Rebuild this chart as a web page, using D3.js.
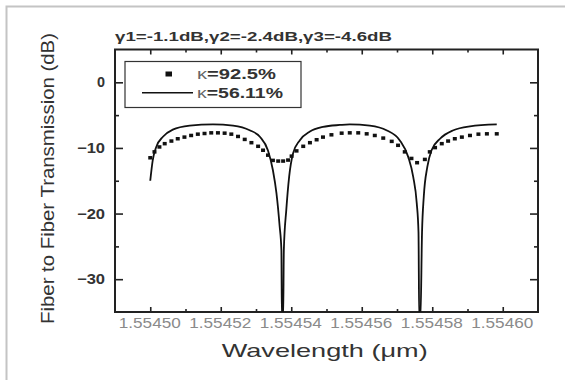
<!DOCTYPE html>
<html>
<head>
<meta charset="utf-8">
<script src="https://cdn.jsdelivr.net/npm/d3@7"></script>
<style>
  body { margin: 0; background: #fff; }
  svg { font-family: "Liberation Sans", Arial, sans-serif; }
</style>
</head>
<body>
<div id="chart"></div>
<script>
// data (wavelength in um, transmission in dB)
const squareWl = [1.5545000, 1.5545012, 1.5545026, 1.5545041, 1.5545060, 1.5545078, 1.5545097,
  1.5545116, 1.5545135, 1.5545154, 1.5545173, 1.5545192, 1.5545211, 1.5545230, 1.5545249,
  1.5545268, 1.5545287, 1.5545306, 1.5545320, 1.5545334, 1.5545348, 1.5545363, 1.5545377,
  1.5545391, 1.5545401, 1.5545415, 1.5545434, 1.5545453, 1.5545472, 1.5545490, 1.5545514,
  1.5545543, 1.5545566, 1.5545590, 1.5545614, 1.5545637, 1.5545661, 1.5545685, 1.5545703,
  1.5545722, 1.5545741, 1.5545757, 1.5545779, 1.5545793, 1.5545808, 1.5545827, 1.5545845,
  1.5545864, 1.5545884, 1.5545907, 1.5545931, 1.5545955, 1.5545983];
const squareDb = [-11.5, -10.6, -9.85, -9.35, -8.95, -8.6, -8.35,
  -8.1, -7.9, -7.8, -7.7, -7.7, -7.75, -7.9, -8.25,
  -8.7, -9.2, -9.75, -10.35, -11.1, -11.9, -12.0, -12.0,
  -11.85, -11.25, -10.45, -9.75, -9.2, -8.75, -8.35, -8.0,
  -7.75, -7.7, -7.7, -7.85, -8.1, -8.5, -9.0, -9.6,
  -10.6, -11.6, -12.25, -11.75, -10.6, -9.95, -9.35, -8.95,
  -8.6, -8.35, -8.1, -7.9, -7.85, -7.85];

const lineWl = [1.5545000, 1.5545007, 1.5545017, 1.5545036, 1.5545064, 1.5545112, 1.5545178,
  1.5545235, 1.5545282, 1.5545311, 1.5545334, 1.5545348, 1.5545358, 1.5545367, 1.5545372,
  1.55453735, 1.55453770, 1.5545379, 1.5545386, 1.5545394, 1.5545405, 1.5545424, 1.5545453,
  1.5545490, 1.5545538, 1.5545566, 1.5545623, 1.5545670, 1.5545708, 1.5545732, 1.5545746,
  1.5545756, 1.5545761, 1.55457630, 1.55457665, 1.5545771, 1.5545776, 1.5545786, 1.5545798,
  1.5545822, 1.5545860, 1.5545907, 1.5545983];
const lineDb = [-15.0, -11.9, -9.85, -8.3, -7.2, -6.6, -6.4,
  -6.6, -7.3, -8.3, -10.4, -13.4, -16.9, -21.9, -25.5,
  -36, -36, -25.5, -19.4, -14.4, -10.85, -8.85, -7.5,
  -6.8, -6.5, -6.4, -6.6, -7.3, -8.85, -11.4, -14.4,
  -18.4, -22.9, -36, -36, -22.9, -17.4, -12.9, -10.35,
  -8.6, -7.3, -6.7, -6.4];

const xMajor = [1.55450, 1.55452, 1.55454, 1.55456, 1.55458, 1.55460];
const xMinor = [1.55451, 1.55453, 1.55455, 1.55457, 1.55459];
const yMajor = [0, -10, -20, -30];
const yMinor = [-5, -15, -25];
const legendLabels = ["=92.5%", "=56.11%"];

const width = 565, height = 380;
const margin = {top: 49.5, right: 27, bottom: 68, left: 115};

const svg = d3.select("#chart").append("svg")
  .attr("width", width)
  .attr("height", height);

// light grey picture frame
svg.append("rect")
  .attr("x", 6.5).attr("y", 6.5)
  .attr("width", 620).attr("height", 420)
  .attr("fill", "none")
  .attr("stroke", "#c4c4c4")
  .attr("stroke-width", 2);

const x = d3.scaleLinear()
  .domain([1.55449, 1.55461])
  .range([margin.left, width - margin.right]);
const y = d3.scaleLinear()
  .domain([-35, 5])
  .range([height - margin.bottom, margin.top]);

const x0 = margin.left, x1 = width - margin.right;
const y0 = height - margin.bottom, y1 = margin.top;

// ticks on all four sides, pointing in
function tickAxis(axis, transform) {
  const g = svg.append("g").attr("transform", transform).call(axis);
  g.select(".domain").remove();
  g.selectAll(".tick line").attr("stroke", "#222").attr("stroke-width", 1.6);
  return g;
}

const gx = tickAxis(d3.axisBottom(x).tickValues(xMajor).tickSize(-5).tickPadding(6)
  .tickFormat(d3.format(".5f")), `translate(0,${y0})`);
gx.selectAll("text")
  .attr("fill", "#8a8a8a")
  .attr("font-size", "14px")
  .attr("dx", "-1px")
  .attr("textLength", 62)
  .attr("lengthAdjust", "spacingAndGlyphs");
tickAxis(d3.axisBottom(x).tickValues(xMinor).tickSize(-3).tickFormat(""), `translate(0,${y0})`);
tickAxis(d3.axisTop(x).tickValues(xMajor).tickSize(-5).tickFormat(""), `translate(0,${y1})`);
tickAxis(d3.axisTop(x).tickValues(xMinor).tickSize(-3).tickFormat(""), `translate(0,${y1})`);

const gy = tickAxis(d3.axisLeft(y).tickValues(yMajor).tickSize(-8).tickPadding(10)
  .tickFormat(d3.format("d")), `translate(${x0},0)`);
gy.selectAll("text")
  .attr("fill", "#333")
  .attr("font-size", "14px")
  .attr("font-weight", "bold")
  .attr("textLength", d => d === 0 ? 8 : 28)
  .attr("lengthAdjust", "spacingAndGlyphs");
tickAxis(d3.axisLeft(y).tickValues(yMinor).tickSize(-4).tickFormat(""), `translate(${x0},0)`);
tickAxis(d3.axisRight(y).tickValues(yMajor).tickSize(-8).tickFormat(""), `translate(${x1},0)`);
tickAxis(d3.axisRight(y).tickValues(yMinor).tickSize(-4).tickFormat(""), `translate(${x1},0)`);

// plot frame
svg.append("rect")
  .attr("x", x0).attr("y", y1)
  .attr("width", x1 - x0).attr("height", y0 - y1)
  .attr("fill", "none")
  .attr("stroke", "#222")
  .attr("stroke-width", 2);

svg.append("clipPath").attr("id", "clip")
  .append("rect")
  .attr("x", x0).attr("y", y1)
  .attr("width", x1 - x0).attr("height", y0 - y1);

const lineData = lineWl.map((w, i) => ({w: w, v: lineDb[i]}));
const squareData = squareWl.map((w, i) => ({w: w, v: squareDb[i]}));

const line = d3.line()
  .x(d => x(d.w))
  .y(d => y(d.v))
  .curve(d3.curveMonotoneX);

svg.append("path")
  .datum(lineData)
  .attr("clip-path", "url(#clip)")
  .attr("d", line)
  .attr("fill", "none")
  .attr("stroke", "#111")
  .attr("stroke-width", 1.8);

svg.append("g")
  .selectAll("rect")
  .data(squareData)
  .enter()
  .append("rect")
    .attr("x", d => x(d.w) - 2)
    .attr("y", d => y(d.v) - 1.75)
    .attr("width", 4)
    .attr("height", 3.5)
    .attr("fill", "#111");

// legend
svg.append("rect")
  .attr("x", 125).attr("y", 61.5)
  .attr("width", 176).attr("height", 46)
  .attr("fill", "#fff")
  .attr("stroke", "#333")
  .attr("stroke-width", 1.2);
svg.append("rect")
  .attr("x", 165.5).attr("y", 71.5)
  .attr("width", 6.5).attr("height", 5)
  .attr("fill", "#111");
svg.append("line")
  .attr("x1", 142).attr("x2", 193)
  .attr("y1", 92.7).attr("y2", 92.7)
  .attr("stroke", "#111")
  .attr("stroke-width", 1.6);

const legendLen = [79, 86];
legendLabels.forEach((lab, i) => {
  const t = svg.append("text")
    .attr("x", 197)
    .attr("y", 79 + i * 19)
    .attr("font-size", "14px")
    .attr("fill", "#333")
    .attr("textLength", legendLen[i])
    .attr("lengthAdjust", "spacingAndGlyphs");
  t.append("tspan").attr("font-weight", "normal").attr("fill", "#666").text("\u03ba");
  t.append("tspan").attr("font-weight", "bold").text(lab);
});

// annotation above the plot
svg.append("text")
  .attr("x", 115)
  .attr("y", 41)
  .attr("font-size", "13px")
  .attr("font-weight", "bold")
  .attr("fill", "#333")
  .attr("textLength", 277)
  .attr("lengthAdjust", "spacingAndGlyphs")
  .text("\u03b31=-1.1dB,\u03b32=-2.4dB,\u03b33=-4.6dB");

// axis titles
svg.append("text")
  .attr("x", 221.7)
  .attr("y", 357)
  .attr("font-size", "19px")
  .attr("fill", "#333")
  .attr("textLength", 206)
  .attr("lengthAdjust", "spacingAndGlyphs")
  .text("Wavelength (\u03bcm)");

svg.append("text")
  .attr("transform", "translate(54,324) rotate(-90)")
  .attr("font-size", "18px")
  .attr("fill", "#333")
  .attr("textLength", 291)
  .attr("lengthAdjust", "spacingAndGlyphs")
  .text("Fiber to Fiber Transmission (dB)");
</script>
</body>
</html>
